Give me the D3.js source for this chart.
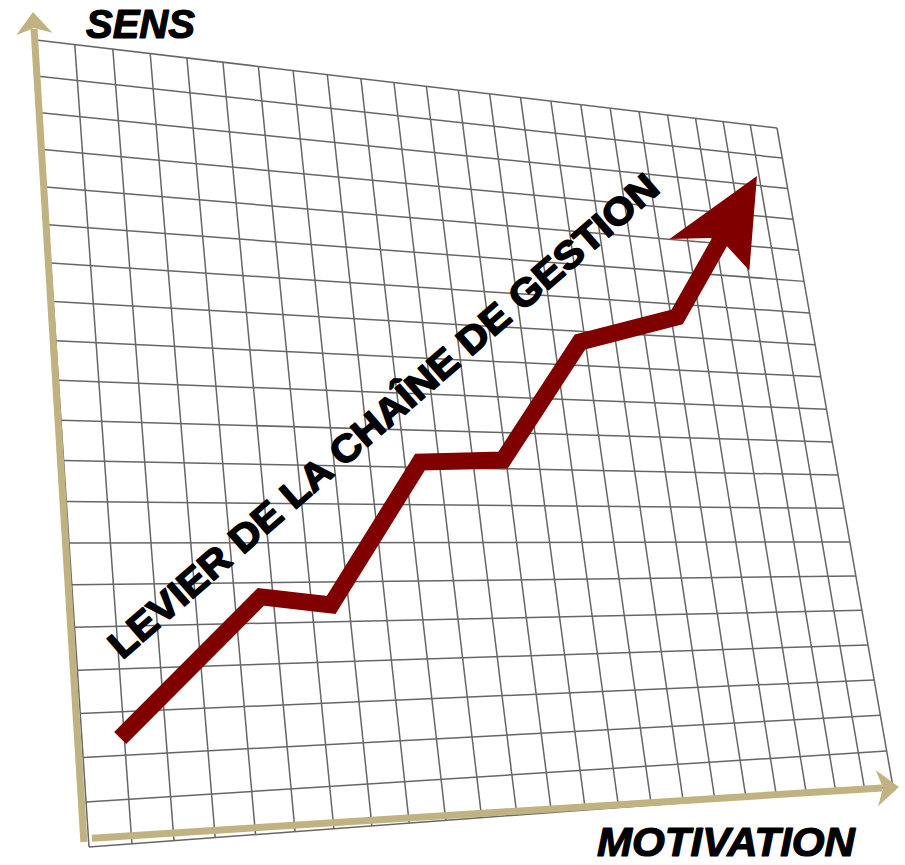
<!DOCTYPE html>
<html>
<head>
<meta charset="utf-8">
<script src="https://cdn.jsdelivr.net/npm/d3@7"></script>
<style>
  html, body { margin: 0; padding: 0; background: #ffffff; }
  svg { display: block; }
</style>
</head>
<body>
<svg id="chart" width="905" height="865"></svg>
<script>
// Grid size (columns along MOTIVATION, rows along SENS)
const gridCols = d3.range(0, 24);
const gridRows = d3.range(0, 21);

// Trend line, in grid units
const motivation = [0.90, 4.68, 6.52, 9.44, 11.91, 14.83, 18.21, 21.92];
const sens       = [2.40, 5.65, 5.42, 9.14,  9.24, 12.69, 13.61, 18.31];

// Text
const xTitle = "MOTIVATION";
const yTitle = "SENS";
const trendLabel = "LEVIER DE LA CHAÎNE DE GESTION";

const W = 905, H = 865;
const svg = d3.select("#chart");

// Tilted sheet: corners of the grid in screen space
const sheet = { tl: [36, 40], tr: [777, 128], br: [893, 787], bl: [89, 847] };

// Square-to-quad projective mapping
function makeProjective(p0, p1, p2, p3) {
  const [x0, y0] = p0, [x1, y1] = p1, [x2, y2] = p2, [x3, y3] = p3;
  const sx = x0 - x1 + x2 - x3, sy = y0 - y1 + y2 - y3;
  const dx1 = x1 - x2, dx2 = x3 - x2, dy1 = y1 - y2, dy2 = y3 - y2;
  const det = dx1 * dy2 - dx2 * dy1;
  const g = (sx * dy2 - dx2 * sy) / det;
  const h = (dx1 * sy - sx * dy1) / det;
  const a = x1 - x0 + g * x1, b = x3 - x0 + h * x3, c = x0;
  const d = y1 - y0 + g * y1, e = y3 - y0 + h * y3, f = y0;
  return (u, v) => {
    const w = g * u + h * v + 1;
    return [(a * u + b * v + c) / w, (d * u + e * v + f) / w];
  };
}
const warp = makeProjective(sheet.tl, sheet.tr, sheet.br, sheet.bl);

const uScale = d3.scaleLinear().domain([0, d3.max(gridCols)]).range([0, 1]);
const vScale = d3.scaleLinear().domain([0, d3.max(gridRows)]).range([1, 0]);
const project = (c, r) => warp(uScale(c), vScale(r));

const line = d3.line();

// Grid
const grid = svg.append("g")
  .attr("fill", "none")
  .attr("stroke", "#666666")
  .attr("stroke-width", 1.5);
grid.selectAll("path.col").data(gridCols).join("path")
  .attr("class", "col")
  .attr("d", c => line([project(c, 0), project(c, d3.max(gridRows))]));
grid.selectAll("path.row").data(gridRows).join("path")
  .attr("class", "row")
  .attr("d", r => line([project(0, r), project(d3.max(gridCols), r)]));

// Arrow head polygon, local frame: t = distance back from tip, s = sideways
function headPath(tip, from, shape) {
  const dx = from[0] - tip[0], dy = from[1] - tip[1];
  const len = Math.hypot(dx, dy);
  const bx = dx / len, by = dy / len;    // back along shaft
  const nx = -by, ny = bx;               // sideways
  return line(shape.map(([t, s]) => [tip[0] + bx * t + nx * s, tip[1] + by * t + ny * s])) + "Z";
}
function backOff(tip, from, dist) {
  const dx = from[0] - tip[0], dy = from[1] - tip[1];
  const len = Math.hypot(dx, dy);
  return [tip[0] + dx / len * dist, tip[1] + dy / len * dist];
}

// Axes
const axisColor = "#c1b281";
const axisHead = [[0, 0], [22, -18], [16, 0], [22, 18]];
const yAxisFrom = project(-0.11, 0.12), yAxisTip = project(-0.03, 20.78);
const xAxisFrom = project(0.08, 0.19),  xAxisTip = project(23.21, -0.01);
const axes = svg.append("g");
[[yAxisFrom, yAxisTip], [xAxisFrom, xAxisTip]].forEach(([from, tip]) => {
  axes.append("path")
    .attr("d", line([from, backOff(tip, from, 17)]))
    .attr("stroke", axisColor).attr("stroke-width", 7).attr("fill", "none");
  axes.append("path")
    .attr("d", headPath(tip, from, axisHead))
    .attr("fill", axisColor);
});

// Trend line with arrow head
const pts = motivation.map((m, i) => project(m, sens[i]));
const tip = pts[pts.length - 1];
const prev = pts[pts.length - 2];
const shaft = pts.slice(0, -1).concat([backOff(tip, prev, 60)]);
const trendColor = "#800000";
svg.append("path")
  .attr("d", line(shaft))
  .attr("fill", "none")
  .attr("stroke", trendColor)
  .attr("stroke-width", 17)
  .attr("stroke-linejoin", "miter")
  .attr("stroke-miterlimit", 10)
  .attr("stroke-linecap", "butt");
svg.append("path")
  .attr("d", headPath(tip, prev, [[0, 0], [86, -40], [75, -6], [77, 10], [98, 45]]))
  .attr("fill", trendColor);

// Slanted label above the trend
const labelAt = project(1.08, 4.2);
svg.append("text")
  .attr("transform", `translate(${labelAt[0]},${labelAt[1]}) rotate(-41)`)
  .attr("font-family", "'Liberation Sans', Arial, sans-serif")
  .attr("font-weight", "bold")
  .attr("font-size", 38)
  .attr("textLength", 715)
  .attr("lengthAdjust", "spacingAndGlyphs")
  .attr("fill", "#000")
  .attr("stroke", "#000")
  .attr("stroke-width", 1.6)
  .attr("stroke-linejoin", "round")
  .text(trendLabel);

// Axis titles
svg.append("text")
  .attr("x", 86).attr("y", 38)
  .attr("font-family", "'Liberation Sans', Arial, sans-serif")
  .attr("font-weight", "bold").attr("font-style", "italic")
  .attr("font-size", 40)
  .attr("fill", "#000")
  .attr("stroke", "#000").attr("stroke-width", 1.2).attr("stroke-linejoin", "round")
  .text(yTitle);
svg.append("text")
  .attr("x", 597).attr("y", 856)
  .attr("font-family", "'Liberation Sans', Arial, sans-serif")
  .attr("font-weight", "bold").attr("font-style", "italic")
  .attr("font-size", 40)
  .attr("textLength", 258)
  .attr("lengthAdjust", "spacingAndGlyphs")
  .attr("fill", "#000")
  .attr("stroke", "#000").attr("stroke-width", 1.2).attr("stroke-linejoin", "round")
  .text(xTitle);
</script>
</body>
</html>
